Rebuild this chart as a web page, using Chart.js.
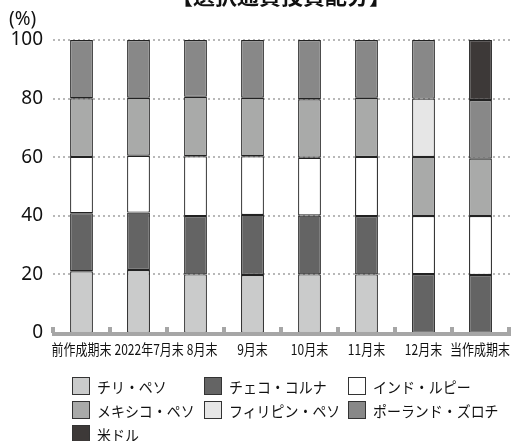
<!DOCTYPE html>
<html>
<head>
<meta charset="utf-8">
<script src="https://cdn.jsdelivr.net/npm/chart.js@4"></script>
<style>
  body { margin: 0; background: #fff; }
  #wrap { position: relative; width: 511px; height: 441px; overflow: hidden; }
  #legend {
    position: absolute; left: 72px; top: 377px;
    display: grid; grid-template-columns: 132px 144px 150px; grid-auto-rows: 24px;
    font-family: "Noto Sans CJK JP", sans-serif; font-size: 15px; color: #111;
  }
  #legend div { display: flex; align-items: center; height: 18px; white-space: nowrap; }
  #legend span.box { width: 16px; height: 16px; border: 1px solid #333; margin-right: 7px; flex: none; }
  #legend span.txt { display: inline-block; transform: scaleX(0.93); transform-origin: left center; }
</style>
</head>
<body>
<div id="wrap">
  <canvas id="currencyChart" width="511" height="441"></canvas>
  <div id="legend"></div>
</div>
<script>
const title = "【選択通貨投資配分】";
const labels = ["前作成期末", "2022年7月末", "8月末", "9月末", "10月末", "11月末", "12月末", "当作成期末"];
const chile = [21.1, 21.5, 20.0, 19.8, 20.0, 20.0, null, null];
const czech = [19.8, 19.6, 19.9, 20.5, 20.1, 19.9, 20.1, 19.8];
const india = [19.2, 19.4, 20.4, 20.0, 19.7, 20.2, 19.8, 20.1];
const mexico = [20.0, 19.8, 20.3, 20.0, 20.0, 20.2, 20.2, 19.6];
const philippines = [null, null, null, null, null, null, 19.9, null];
const poland = [19.9, 19.7, 19.4, 19.7, 20.2, 19.7, 20.0, 20.0];
const usd = [null, null, null, null, null, null, null, 20.5];
const yTicks = [0, 20, 40, 60, 80, 100];

const seriesNames = ["チリ・ペソ", "チェコ・コルナ", "インド・ルピー", "メキシコ・ペソ", "フィリピン・ペソ", "ポーランド・ズロチ", "米ドル"];
const seriesData = [chile, czech, india, mexico, philippines, poland, usd];
const colors = ["#cacbcb", "#646464", "#ffffff", "#a9aaa9", "#e6e6e6", "#888888", "#3d3938"];

const cjk = '"Noto Sans CJK JP", sans-serif';

// dotted grid behind the bars
const dottedGrid = {
  id: "dottedGrid",
  beforeDatasetsDraw(chart) {
    const ctx = chart.ctx;
    const ys = chart.scales.y;
    ctx.save();
    ctx.strokeStyle = "#b8b8b8";
    ctx.lineWidth = 2;
    ctx.setLineDash([2, 3]);
    yTicks.forEach((v) => {
      if (v === 0) return;
      const y = Math.round(ys.getPixelForValue(v));
      ctx.beginPath();
      ctx.moveTo(chart.chartArea.left, y);
      ctx.lineTo(chart.width, y);
      ctx.stroke();
    });
    ctx.restore();
  }
};

// title, (%) unit, x labels and the thick base axis with tabs
const decorations = {
  id: "decorations",
  afterDraw(chart) {
    const ctx = chart.ctx;
    const area = chart.chartArea;
    const xs = chart.scales.x;
    const ys = chart.scales.y;
    ctx.save();

    ctx.fillStyle = "#111";
    ctx.font = "bold 22px " + cjk;
    ctx.textAlign = "center";
    ctx.textBaseline = "alphabetic";
    ctx.fillText(title, (area.left + area.right) / 2, 4);

    ctx.font = '19px "Noto Sans", sans-serif';
    ctx.textAlign = "left";
    ctx.textBaseline = "middle";
    ctx.fillText("(%)", 9, 20);

    // base axis
    const y0 = ys.getPixelForValue(0) + 1;
    const half = (xs.getPixelForTick(1) - xs.getPixelForTick(0)) / 2;
    ctx.fillStyle = "#a6a6a6";
    ctx.fillRect(area.left - 1, y0 - 2, chart.width - area.left + 1, 4);
    for (let i = 0; i <= labels.length; i++) {
      const bx = (i < labels.length ? xs.getPixelForTick(i) - half : xs.getPixelForTick(i - 1) + half);
      ctx.fillRect(bx - 2, y0 - 7, 4, 6);
    }

    // x labels, squeezed a little and nudged apart where they collide
    const sx = 0.8;
    ctx.font = "15px " + cjk;
    ctx.fillStyle = "#111";
    ctx.textAlign = "left";
    ctx.textBaseline = "middle";
    let prevRight = -Infinity;
    labels.forEach((lab, i) => {
      const w = ctx.measureText(lab).width * sx;
      let left = xs.getPixelForTick(i) - w / 2;
      if (left < prevRight + 3) left = prevRight + 3;
      if (left + w > chart.width - 1) left = chart.width - 1 - w;
      ctx.save();
      ctx.translate(left, y0 + 15);
      ctx.scale(sx, 1);
      ctx.fillText(lab, 0, 0);
      ctx.restore();
      prevRight = left + w;
    });
    ctx.restore();
  }
};

const ctx = document.getElementById("currencyChart").getContext("2d");
const chart = new Chart(ctx, {
  type: "bar",
  data: {
    labels: labels,
    datasets: seriesNames.map((name, i) => ({
      label: name,
      data: seriesData[i],
      backgroundColor: colors[i],
      borderColor: "#222",
      borderWidth: 1.2,
      borderSkipped: false,
      barPercentage: 0.4,
      categoryPercentage: 1.0,
    })),
  },
  options: {
    responsive: false,
    animation: false,
    layout: { padding: { top: 40, right: 2, bottom: 108, left: 0 } },
    plugins: {
      legend: { display: false },
      tooltip: { enabled: false },
    },
    scales: {
      x: {
        stacked: true,
        grid: { display: false, drawTicks: false },
        border: { display: false },
        ticks: { display: false },
      },
      y: {
        stacked: true,
        min: 0,
        max: 100,
        afterFit(scale) { scale.width = 53; },
        afterBuildTicks(scale) { scale.ticks = yTicks.map(v => ({ value: v })); },
        border: { display: false },
        grid: { display: false, drawTicks: false },
        ticks: {
          padding: 10,
          color: "#111",
          font: { family: '"Noto Sans", sans-serif', size: 19 },
        },
      },
    },
  },
  plugins: [dottedGrid, decorations],
});

// legend in three fixed columns
const legendEl = document.getElementById("legend");
chart.data.datasets.forEach((ds) => {
  const item = document.createElement("div");
  const box = document.createElement("span");
  box.className = "box";
  box.style.background = ds.backgroundColor;
  const txt = document.createElement("span");
  txt.className = "txt";
  txt.textContent = ds.label;
  item.appendChild(box);
  item.appendChild(txt);
  legendEl.appendChild(item);
});
</script>
</body>
</html>
